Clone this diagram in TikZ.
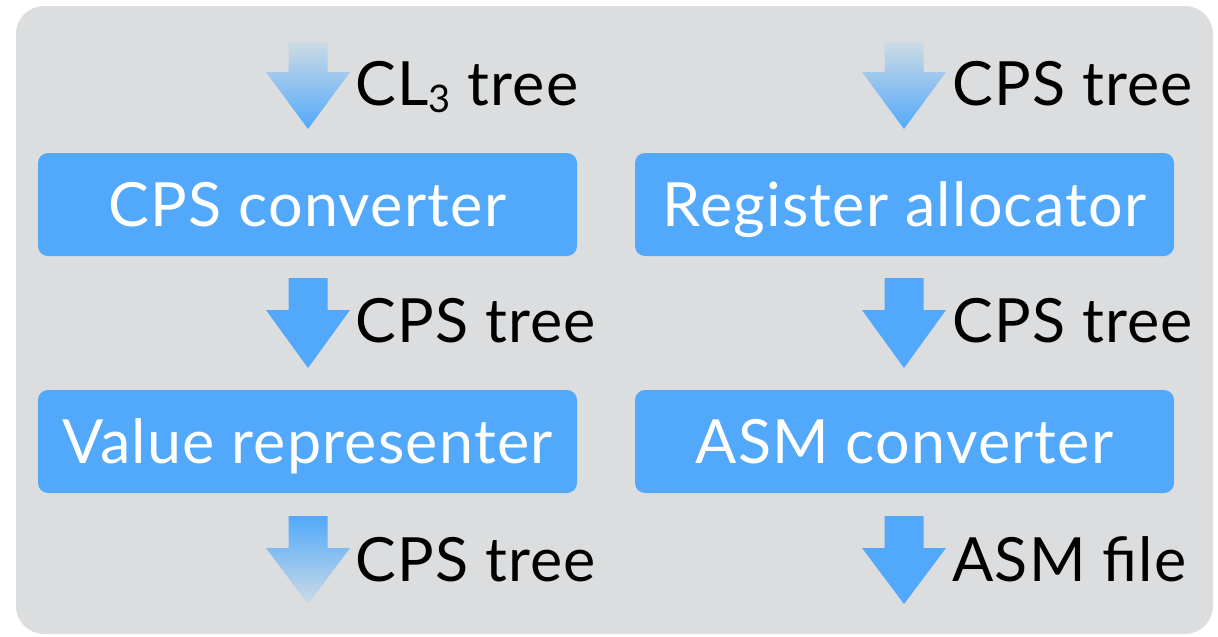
\documentclass[tikz,border=0pt]{standalone}
\usepackage{fontspec}
\setmainfont{Lato}[LetterSpace=2]
\definecolor{bg}{HTML}{DCDDDF}
\definecolor{boxblue}{HTML}{52A8FA}
\definecolor{fade}{HTML}{CCDBE5}
\begin{document}
\begin{tikzpicture}[x=1pt,y=-1pt,
  stage/.style={fill=boxblue, rounded corners=10pt, minimum width=539pt, minimum height=103pt,
    text=white, font=\fontsize{61}{64}\selectfont, inner sep=0pt, text height=43pt, text depth=0pt},
  lbl/.style={anchor=base west, font=\fontsize{61}{64}\selectfont, inner sep=0pt, text=black},
  solidarrow/.style={fill=boxblue},
  fadein/.style={top color=fade, bottom color=boxblue},
  fadeout/.style={top color=boxblue, bottom color=fade}]
\useasboundingbox (0,0) rectangle (1218,637);
\fill[bg, rounded corners=28pt] (16,6) rectangle (1213,634);
% stages
\node[stage] (cps) at (307.5,204.5) {CPS converter};
\node[stage] (val) at (307.5,441.5) {Value representer};
\node[stage] (reg) at (904.5,204.5) {Register allocator};
\node[stage] (asm) at (904.5,441.5) {ASM converter};
% arrows
\path[fadein] (288.5,42) -- (327.5,42) -- (327.5,72) -- (350,72) -- (308,129) -- (266,72) -- (288.5,72) -- cycle;
\path[solidarrow] (288.5,278) -- (327.5,278) -- (327.5,310) -- (350,310) -- (308,368) -- (266,310) -- (288.5,310) -- cycle;
\path[fadeout] (288.5,516) -- (327.5,516) -- (327.5,548) -- (350,548) -- (308,604) -- (266,548) -- (288.5,548) -- cycle;
\path[fadein] (884.5,42) -- (923.5,42) -- (923.5,72) -- (946,72) -- (904,129) -- (862,72) -- (884.5,72) -- cycle;
\path[solidarrow] (884.5,278) -- (923.5,278) -- (923.5,310) -- (946,310) -- (904,368) -- (862,310) -- (884.5,310) -- cycle;
\path[solidarrow] (884.5,516) -- (923.5,516) -- (923.5,548) -- (946,548) -- (904,604) -- (862,548) -- (884.5,548) -- cycle;
% labels
\node[lbl] (l1) at (355,105) {CL{\fontsize{38}{38}\selectfont\raisebox{-7pt}{3}} tree};
\node[lbl] (l2) at (355,342) {CPS tree};
\node[lbl] (l3) at (355,581) {CPS tree};
\node[lbl] (r1) at (952,105) {CPS tree};
\node[lbl] (r2) at (952,342) {CPS tree};
\node[lbl] (r3) at (952,581) {ASM file};
\end{tikzpicture}
\end{document}
